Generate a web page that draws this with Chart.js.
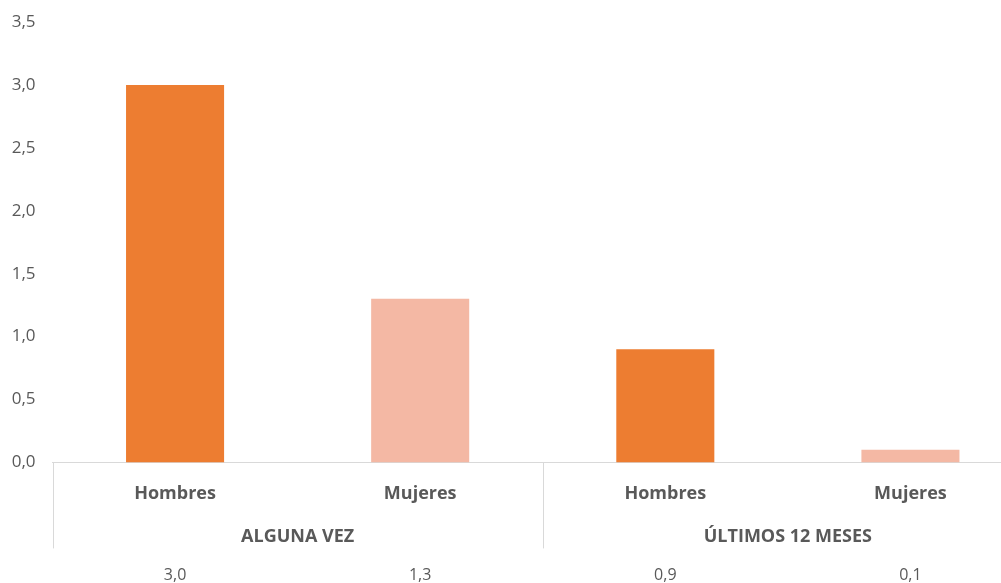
<!DOCTYPE html>
<html>
<head>
<meta charset="utf-8">
<script src="https://cdn.jsdelivr.net/npm/chart.js@4"></script>
<style>
    html, body { margin: 0; padding: 0; background: #fff; overflow: hidden; }
    #wrap { width: 1033px; height: 583px; }
</style>
</head>
<body>
<div id="wrap"><canvas id="grafico"></canvas></div>
<script>
// Datos del gráfico
const categorias = ['Hombres', 'Mujeres', 'Hombres', 'Mujeres'];
const grupos = ['ALGUNA VEZ', 'ÚLTIMOS 12 MESES'];
const valores = [3.0, 1.3, 0.9, 0.1];
const colores = ['#ED7D31', '#F4B8A4', '#ED7D31', '#F4B8A4'];

const gris = '#595959';
const fuente = "'Open Sans', sans-serif";

function formato(v) {
    return v.toFixed(1).replace('.', ',');
}

// Plugin para grupos, separadores y fila de valores
const tablaInferior = {
    id: 'tablaInferior',
    afterDraw(chart) {
        const ctx = chart.ctx;
        const x = chart.scales.x;
        const base = chart.chartArea.bottom;
        const paso = x.getPixelForValue(1) - x.getPixelForValue(0);
        const inicio = x.getPixelForValue(0) - paso / 2;

        ctx.save();
        // separadores verticales
        ctx.strokeStyle = '#D9D9D9';
        ctx.lineWidth = 1;
        for (let i = 0; i <= grupos.length; i++) {
            const px = Math.round(inicio + i * paso * 2) + 0.5;
            ctx.beginPath();
            ctx.moveTo(px, base);
            ctx.lineTo(px, base + 86);
            ctx.stroke();
        }

        ctx.fillStyle = gris;
        ctx.textAlign = 'center';
        ctx.textBaseline = 'middle';
        // etiquetas de grupo
        ctx.font = 'bold 18px ' + fuente;
        grupos.forEach((g, i) => {
            const cx = (x.getPixelForValue(i * 2) + x.getPixelForValue(i * 2 + 1)) / 2;
            ctx.fillText(g, cx, base + 74);
        });
        // fila de valores
        ctx.font = '16px ' + fuente;
        valores.forEach((v, i) => {
            ctx.fillText(formato(v), x.getPixelForValue(i), base + 113);
        });
        ctx.restore();
    }
};

const ctx = document.getElementById('grafico').getContext('2d');
new Chart(ctx, {
    type: 'bar',
    data: {
        labels: categorias,
        datasets: [{
            data: valores,
            backgroundColor: colores,
            categoryPercentage: 1,
            barPercentage: 0.4
        }]
    },
    options: {
        responsive: true,
        maintainAspectRatio: false,
        animation: false,
        layout: { padding: { top: 22, right: 0, bottom: 57, left: 0 } },
        plugins: {
            legend: { display: false },
            tooltip: { enabled: false }
        },
        scales: {
            x: {
                grid: { display: false, drawTicks: false },
                border: { display: true, color: '#D9D9D9', width: 1 },
                ticks: {
                    color: gris,
                    padding: 21,
                    font: { family: fuente, size: 18, weight: 'bold' }
                }
            },
            y: {
                min: 0,
                max: 3.5,
                afterFit: (scale) => {
                    scale.width = 52.5;
                    scale.paddingTop = 0;
                    scale.paddingBottom = 0;
                },
                grid: { display: false, drawTicks: false },
                border: { display: false },
                ticks: {
                    stepSize: 0.5,
                    padding: 17,
                    color: gris,
                    font: { family: fuente, size: 17 },
                    callback: (v) => formato(v)
                }
            }
        }
    },
    plugins: [tablaInferior]
});
</script>
</body>
</html>
